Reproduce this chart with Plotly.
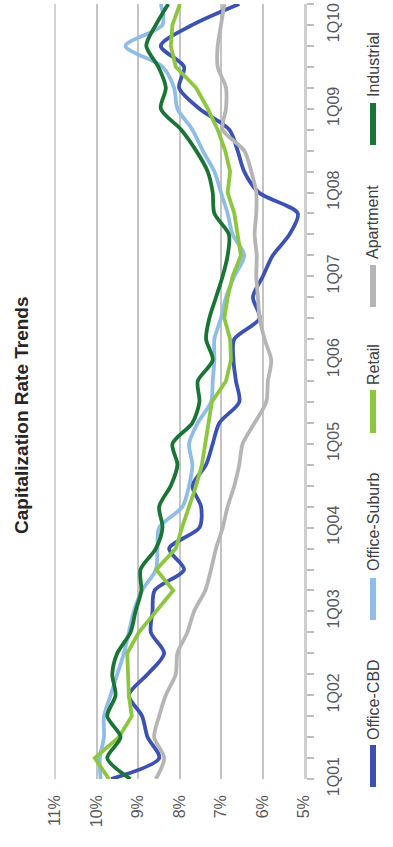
import plotly.graph_objects as go

quarters = [f"{q}Q{y:02d}" for y in range(1, 11) for q in range(1, 5)][:38]

office_cbd = [9.65, 8.49, 8.77, 8.90, 9.22, 8.77, 8.37, 8.69, 8.65, 8.60, 7.89, 8.25, 7.52, 7.48, 7.69, 7.36, 7.20, 7.04, 6.56,
              6.64, 6.70, 6.68, 6.07, 6.23, 5.99, 5.75, 5.35, 5.15, 6.09, 6.44, 6.60, 6.80, 7.52, 8.01, 7.89, 8.45, 7.69, 6.56]
office_suburb = [9.90, 9.92, 9.82, 9.82, 9.66, 9.50, 9.34, 9.22, 9.10, 8.90, 8.57, 8.53, 8.49, 7.93, 7.77, 7.69, 7.77, 7.56, 7.24,
                 7.20, 7.16, 7.16, 7.00, 6.88, 6.68, 6.44, 6.72, 6.84, 7.00, 7.16, 7.44, 7.69, 8.05, 8.13, 8.41, 9.30, 8.41, 8.45]
retail = [9.70, 10.04, 9.46, 9.15, 9.22, 9.24, 9.26, 8.98, 8.57, 8.15, 8.56, 8.09, 7.94, 7.77, 7.60, 7.46, 7.38, 7.28, 7.22,
          6.88, 6.76, 6.78, 6.92, 6.84, 6.72, 6.52, 6.60, 6.68, 6.84, 6.78, 6.90, 7.08, 7.32, 7.60, 8.09, 8.21, 8.17, 7.99]
apartment = [8.57, 8.37, 8.61, 8.49, 8.33, 8.09, 8.05, 7.81, 7.65, 7.38, 7.24, 7.12, 6.96, 6.84, 6.68, 6.56, 6.48, 6.19, 5.91,
             5.87, 5.79, 5.95, 6.07, 6.11, 6.15, 6.14, 6.19, 6.15, 6.15, 6.27, 6.44, 6.96, 6.88, 6.88, 7.08, 7.08, 7.00, 6.92]
industrial = [9.18, 9.74, 9.42, 9.74, 9.54, 9.62, 9.50, 9.18, 9.06, 8.92, 8.94, 8.57, 8.41, 8.49, 8.21, 8.05, 8.17, 7.69, 7.52,
              7.56, 7.20, 7.36, 7.28, 7.12, 6.96, 6.84, 6.81, 7.16, 7.20, 7.32, 7.60, 7.96, 8.45, 8.33, 8.51, 8.80, 8.57, 8.27]

rate_ticks = [5, 6, 7, 8, 9, 10, 11]
year_labels = ["1Q01", "1Q02", "1Q03", "1Q04", "1Q05", "1Q06", "1Q07", "1Q08", "1Q09", "1Q10"]

series = [
    ("Office-CBD", office_cbd, "#3b52b4", "spline"),
    ("Office-Suburb", office_suburb, "#90bce8", "spline"),
    ("Retail", retail, "#8dc63f", "linear"),
    ("Apartment", apartment, "#b5b5b5", "spline"),
    ("Industrial", industrial, "#1a7436", "spline"),
]

W, H = 393, 847
L, R, T, B = 55, 304, 4, 779  # plot area in pixels

def px_x(p):
    return (p - L) / (R - L)

def px_y(p):
    return (B - p) / (B - T)

qidx = list(range(len(quarters)))

fig = go.Figure()
for name, vals, col, shape in series:
    fig.add_trace(go.Scatter(x=vals, y=qidx, mode="lines", name=name,
                             line=dict(color=col, width=3.8, shape=shape, smoothing=0.8),
                             showlegend=False, hoverinfo="skip"))

font = "Arial, Liberation Sans, sans-serif"
ticktext = [q if q in year_labels else "" for q in quarters]

fig.update_layout(
    width=W, height=H,
    margin=dict(l=L, r=W - R, t=T, b=H - B, autoexpand=False),
    paper_bgcolor="white", plot_bgcolor="white",
    font=dict(family=font, color="#595959", size=16),
    xaxis=dict(range=[11, 5], tickvals=rate_ticks, ticktext=[f"{v}%" for v in rate_ticks],
               tickangle=-90, showgrid=True, gridcolor="#c4c4c4", gridwidth=1.5,
               zeroline=False, showline=False, ticks="", ticklabelstandoff=12,
               automargin=False, tickfont=dict(size=16, color="#595959")),
    yaxis=dict(range=[0, 37], side="right", tickmode="array", tickvals=qidx, ticktext=ticktext,
               tickangle=-90, showgrid=False, zeroline=False,
               showline=True, linecolor="#cfcfcf", linewidth=2.5,
               ticks="outside", ticklen=7, tickcolor="#bdbdbd", tickwidth=1.5,
               ticklabelstandoff=6, automargin=False, tickfont=dict(size=16, color="#595959")),
    yaxis2=dict(range=[0, 37], side="right", overlaying="y", tickmode="array", tickvals=qidx,
                showticklabels=False, showgrid=False, zeroline=False,
                showline=False, automargin=False,
                ticks="inside", ticklen=7, tickcolor="#bdbdbd", tickwidth=1.5),
)

# 11% gridline at the plot's left edge (paper-referenced so it is not clipped)
fig.add_shape(type="line", xref="paper", yref="paper", x0=0, x1=0, y0=0, y1=1,
              line=dict(color="#c4c4c4", width=1.5), layer="below")

# title
fig.add_annotation(text="<b>Capitalization Rate Trends</b>", xref="paper", yref="paper",
                   x=px_x(22), y=px_y(415), showarrow=False, textangle=-90,
                   font=dict(size=19, color="#262626", family=font),
                   xanchor="center", yanchor="middle")

# legend
legend_pos = [  # bar top, bar bottom, text center (pixels)
    (745, 787, 700),
    (578, 620, 522),
    (390, 433, 365),
    (265, 307, 222),
    (103, 145, 65),
]
lx = px_x(373)
for (name, vals, col, shape), (bt, bb, tc) in zip(series, legend_pos):
    fig.add_shape(type="line", xref="paper", yref="paper", x0=lx, x1=lx,
                  y0=px_y(bb), y1=px_y(bt), line=dict(color=col, width=6))
    fig.add_annotation(text=name, xref="paper", yref="paper", x=lx, y=px_y(tc),
                       showarrow=False, textangle=-90, xanchor="center", yanchor="middle",
                       font=dict(size=16, color="#404040", family=font))

fig.write_html("out.html", config={"displayModeBar": False},
               post_script="document.body.style.margin='0px';")
